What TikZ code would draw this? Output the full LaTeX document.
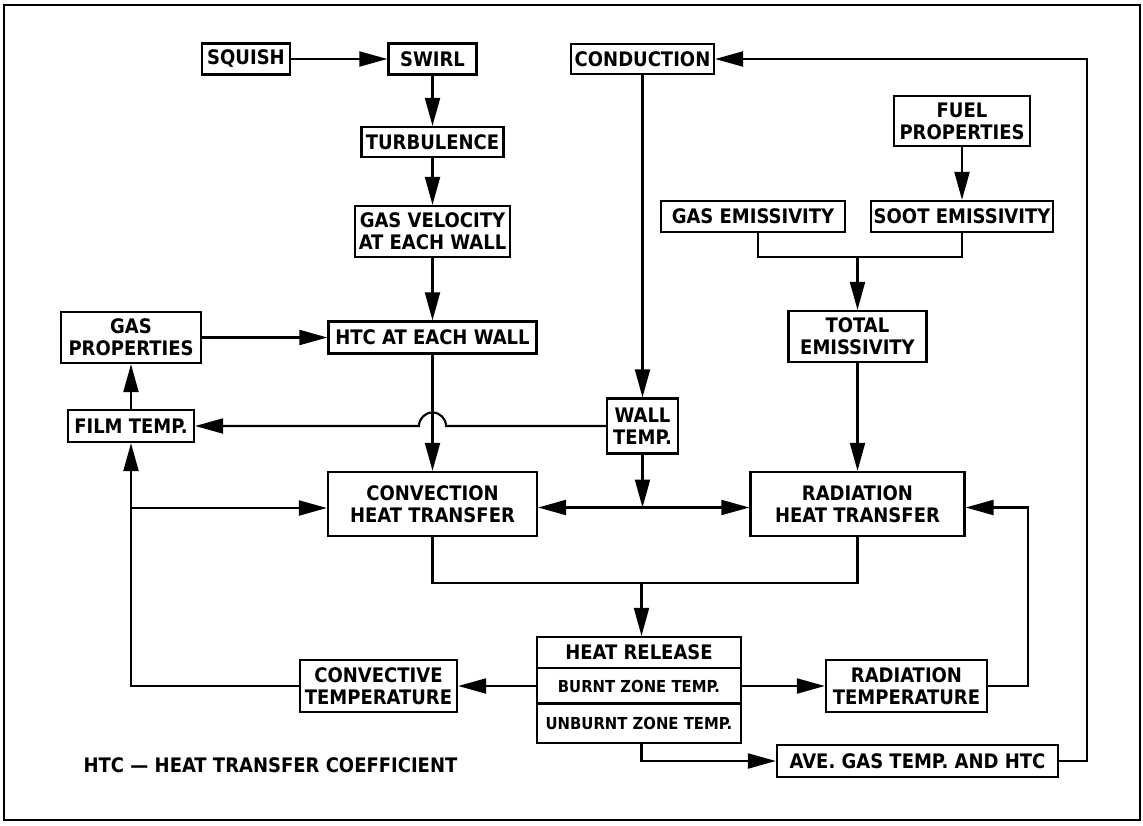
\documentclass[tikz,border=0pt]{standalone}
\usepackage{fontspec}
\setmainfont{DejaVu Sans Condensed}
\usetikzlibrary{arrows.meta}
\begin{document}
\begin{tikzpicture}[x=1pt,y=-1pt,
  box/.style={draw, line width=2.3pt, inner sep=0pt, align=center,
    font=\bfseries\fontsize{20}{22}\selectfont},
  small/.style={inner sep=0pt, font=\bfseries\fontsize{16.5}{18}\selectfont},
  wire/.style={line width=2.1pt},
  arr/.style={wire, -{Triangle[length=28pt,width=15pt]}}
]
\useasboundingbox (0,0) rectangle (1143,825);
\draw[line width=1.6pt] (4,5) rectangle (1140,820);

% nodes
\node[box, minimum width=88pt, minimum height=31pt] (squish) at (246,59) {SQUISH};
\node[box, minimum width=88pt, minimum height=31pt] (swirl) at (432.5,59) {SWIRL};
\node[box, minimum width=142pt, minimum height=30pt] (turb) at (432.5,142) {TURBULENCE};
\node[box, minimum width=155pt, minimum height=51pt] (gasvel) at (432.5,231.5) {GAS VELOCITY\\AT EACH WALL};
\node[box, minimum width=143pt, minimum height=30pt] (cond) at (642.5,59) {CONDUCTION};
\node[box, minimum width=136pt, minimum height=50pt] (fuel) at (962,121) {FUEL\\PROPERTIES};
\node[box, minimum width=184pt, minimum height=31pt] (gasem) at (753,216.5) {GAS EMISSIVITY};
\node[box, minimum width=182pt, minimum height=31pt] (sootem) at (962,216.5) {SOOT EMISSIVITY};
\node[box, minimum width=138pt, minimum height=51pt] (totem) at (857.5,336.5) {TOTAL\\EMISSIVITY};
\node[box, minimum width=140pt, minimum height=51pt] (gasprop) at (131,337.5) {GAS\\PROPERTIES};
\node[box, minimum width=208pt, minimum height=32pt] (htc) at (432.5,337.5) {HTC AT EACH WALL};
\node[box, minimum width=126pt, minimum height=32pt] (film) at (131,426) {FILM TEMP.};
\node[box, minimum width=71pt, minimum height=55pt] (wall) at (642.5,426) {WALL\\TEMP.};
\node[box, minimum width=209pt, minimum height=64pt] (conv) at (432.5,504) {CONVECTION\\HEAT TRANSFER};
\node[box, minimum width=214pt, minimum height=64pt] (rad) at (857.5,504) {RADIATION\\HEAT TRANSFER};
\node[box, minimum width=157pt, minimum height=52pt] (convt) at (378.5,686) {CONVECTIVE\\TEMPERATURE};
\node[box, minimum width=161pt, minimum height=52pt] (radt) at (906.5,686) {RADIATION\\TEMPERATURE};
\node[box, minimum width=204pt, minimum height=106pt] (hr) at (639,690) {};
\node[box, draw=none] (hrt) at (639,652.5) {HEAT RELEASE};
\node[small] (burnt) at (639,686) {BURNT ZONE TEMP.};
\node[small] (unburnt) at (639,723.5) {UNBURNT ZONE TEMP.};
\draw[line width=2.3pt] (537,668) -- (741,668);
\draw[line width=2.3pt] (537,703.5) -- (741,703.5);
\node[box, minimum width=281pt, minimum height=32pt] (ave) at (917.5,761) {AVE. GAS TEMP. AND HTC};
\node[box, draw=none] (legend) at (270.5,765) {HTC --- HEAT TRANSFER COEFFICIENT};

% coordinates
\coordinate (m1) at (758,257);
\coordinate (m2) at (962,257);
\coordinate (m3) at (857.5,257);
\coordinate (J) at (642.5,507.5);
\coordinate (c1) at (432.5,583);
\coordinate (c2) at (857.5,583);
\coordinate (c3) at (641.5,583);
\coordinate (Lb) at (131,686);
\coordinate (Lm) at (131,508);
\coordinate (Rb) at (1028,686);
\coordinate (Rt) at (1028,507.5);
\coordinate (Ab) at (641.5,761);
\coordinate (Fr1) at (1087,761);
\coordinate (Fr2) at (1087,59);
\coordinate (hop) at (446,426);

% connectors
\draw[arr] (squish.east) -- (swirl.west);
\draw[arr] (swirl.south) -- (turb.north);
\draw[arr] (turb.south) -- (gasvel.north);
\draw[arr] (gasvel.south) -- (htc.north);
\draw[arr] (gasprop.east) -- (htc.west);
\draw[arr] (film.north) -- (gasprop.south);
\draw[arr] (htc.south) -- (conv.north);
\draw[arr] (wall.west) -- (hop) arc[start angle=0, end angle=180, radius=13.5pt] -- (film.east);
\draw[arr] (cond.south) -- (wall.north);
\draw[arr] (wall.south) -- (J);
\draw[arr] (J) -- (J -| conv.east);
\draw[arr] (J) -- (J -| rad.west);
\draw[arr] (fuel.south) -- (sootem.north);
\draw[wire] (gasem.south -| m1) -- (m1) -- (m2) -- (sootem.south);
\draw[arr] (m3) -- (totem.north);
\draw[arr] (totem.south) -- (rad.north);
\draw[wire] (conv.south) -- (c1) -- (c2) -- (rad.south);
\draw[arr] (c3) -- (c3 |- hr.north);
\draw[arr] (hr.west |- convt.east) -- (convt.east);
\draw[arr] (hr.east |- radt.west) -- (radt.west);
\draw[arr] (convt.west) -- (Lb) -- (film.south);
\draw[arr] (Lm) -- (Lm -| conv.west);
\draw[arr] (radt.east) -- (Rb) -- (Rt) -- (Rt -| rad.east);
\draw[arr] (Ab |- hr.south) -- (Ab) -- (ave.west);
\draw[arr] (ave.east) -- (Fr1) -- (Fr2) -- (cond.east);
\end{tikzpicture}
\end{document}
